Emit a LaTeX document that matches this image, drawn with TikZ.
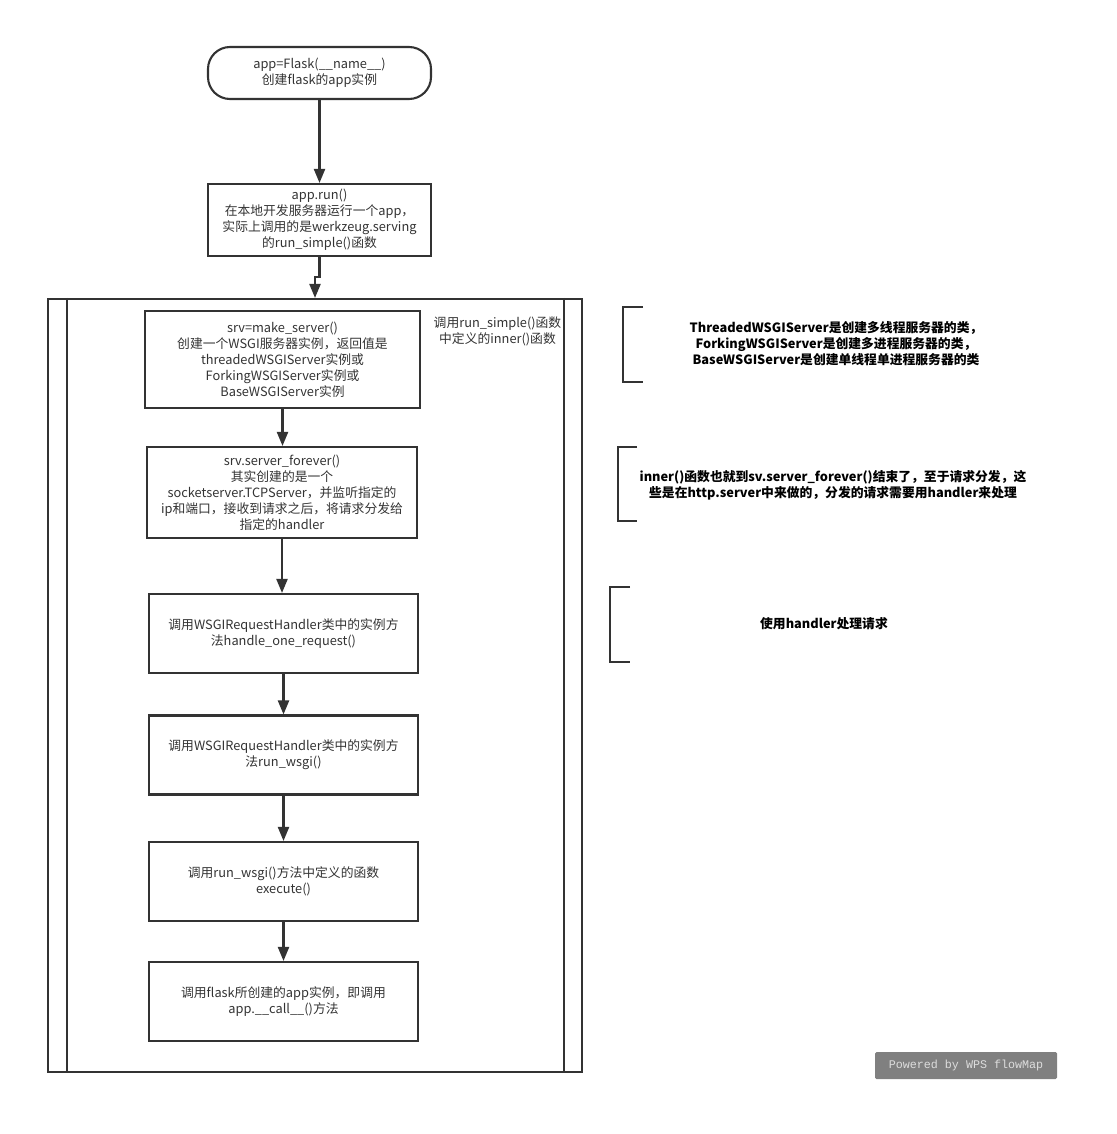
\documentclass[tikz,border=0pt]{standalone}
\usepackage{fontspec}
\setmainfont{Noto Sans CJK SC}
\setmonofont{Liberation Mono}
\usetikzlibrary{arrows.meta,positioning}
\definecolor{lineGray}{HTML}{333333}
\definecolor{markGray}{HTML}{808080}
\definecolor{markText}{HTML}{DDDDDD}
\begin{document}
\begin{tikzpicture}
[x=1pt,y=1pt,
  flowArrow/.style={-{Triangle[length=14pt,width=11pt]},line width=2.2pt,color=lineGray},%
  stepBox/.style={shape=rectangle,draw=lineGray,line width=2.1pt,align=center,inner sep=0pt,
    minimum width=269pt,minimum height=79pt,text width=259pt,text=lineGray,
    font=\fontsize{12.8}{16}\selectfont},%
  termBox/.style={stepBox,rounded corners=22pt},%
  noteText/.style={align=center,font=\bfseries\fontsize{12.8}{16}\selectfont},%
  bracketLine/.style={line width=2.1pt,color=lineGray}]
\useasboundingbox (0,0) rectangle (1116,-1134);
%% outer frame
\node (frame) at (315,-685.5) [draw=lineGray,line width=2.1pt,minimum width=534pt,minimum height=773pt,inner sep=0pt] {};
\draw[bracketLine] ([xshift=20pt]frame.north west) -- ([xshift=20pt]frame.south west);
\draw[bracketLine] ([xshift=-19pt]frame.north east) -- ([xshift=-19pt]frame.south east);
\node (inner) at (497.5,-331) [align=center,text=lineGray,font=\fontsize{12.8}{16}\selectfont]
  {调用run\_simple()函数\\中定义的inner()函数};
%% nodes or vertices
\node (start) at (319.5,-73) [termBox,minimum width=223pt,minimum height=52pt,text width=213pt]
  {app=Flask(\_\_name\_\_)\\创建flask的app实例};
\node (run) at (319.5,-220) [stepBox,minimum width=223pt,minimum height=72pt,text width=219pt]
  {app.run()\\在本地开发服务器运行一个app，\\实际上调用的是werkzeug.serving\\的run\_simple()函数};
\node (srv) at (282.5,-359.5) [stepBox,minimum width=275pt,minimum height=97pt,text width=265pt]
  {srv=make\_server()\\创建一个WSGI服务器实例，返回值是\\threadedWSGIServer实例或\\ForkingWSGIServer实例或\\BaseWSGIServer实例};
\node (forever) at (282,-492.5) [stepBox,minimum width=270pt,minimum height=91pt,text width=266pt]
  {srv.server\_forever()\\其实创建的是一个\\socketserver.TCPServer，并监听指定的\\ip和端口，接收到请求之后，将请求分发给\\指定的handler};
\foreach \nodename/\y/\txt in {
  req/633.5/{调用WSGIRequestHandler类中的实例方\\法handle\_one\_request()},
  wsgi/755/{调用WSGIRequestHandler类中的实例方\\法run\_wsgi()},
  exec/881.5/{调用run\_wsgi()方法中定义的函数\\execute()},
  call/1001.5/{调用flask所创建的app实例，即调用\\app.\_\_call\_\_()方法}}
{
  \node (\nodename) at (283.5,-\y) [stepBox] {\txt};
}
%% arrows
\coordinate (jog) at (315,-277);
\draw[flowArrow] (run.south) |- (jog) -- (jog |- frame.north);
\foreach \startnode/\endnode in {start/run, srv/forever, forever/req, req/wsgi, wsgi/exec, exec/call}
{
  \draw[flowArrow] (\startnode.south) -- (\startnode.south |- \endnode.north);
}
%% notes with brackets
\draw[bracketLine] (643,-307) -- (623,-307) -- (623,-382) -- (643,-382);
\node (noteA) at (836,-344) [noteText]
  {ThreadedWSGIServer是创建多线程服务器的类，\\ForkingWSGIServer是创建多进程服务器的类，\\BaseWSGIServer是创建单线程单进程服务器的类};
\draw[bracketLine] (637,-447) -- (618,-447) -- (618,-521) -- (637,-521);
\node (noteB) at (833,-485) [noteText]
  {inner()函数也就到sv.server\_forever()结束了，至于请求分发，这\\些是在http.server中来做的，分发的请求需要用handler来处理};
\draw[bracketLine] (630,-587) -- (610,-587) -- (610,-662) -- (630,-662);
\node (noteC) at (824,-624) [noteText] {使用handler处理请求};
%% watermark
\node (mark) at (966,-1065.5) [fill=markGray,rounded corners=1.5pt,minimum width=182pt,minimum height=27pt,
  inner sep=0pt,text=markText,font=\ttfamily\fontsize{11.7}{14}\selectfont] {Powered by WPS flowMap};
\end{tikzpicture}
\end{document}
